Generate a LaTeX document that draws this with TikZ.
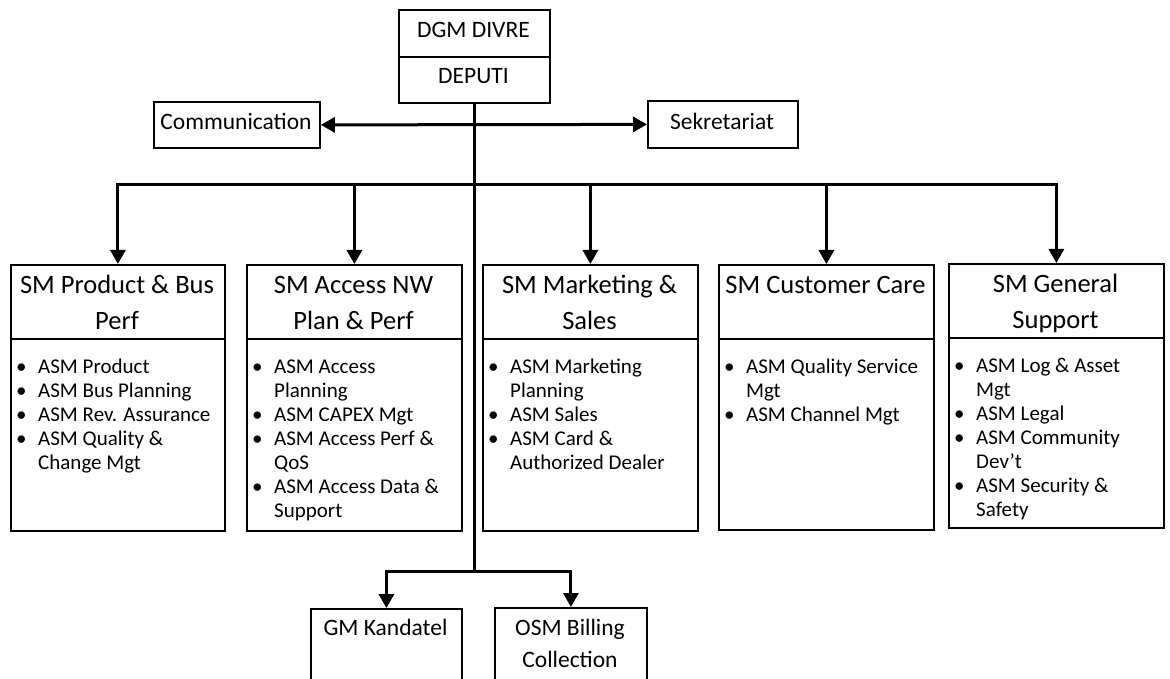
\documentclass[tikz,border=0pt]{standalone}
\usepackage{fontspec}
\setmainfont{Carlito}
\usetikzlibrary{arrows.meta}
\begin{document}
\begin{tikzpicture}[x=1pt,y=-1pt,
  box/.style={draw=black, line width=1.8pt, inner sep=0pt, anchor=north west},
  conn/.style={draw=black, line width=3pt},
  arr/.style={conn, -{Triangle[length=14pt,width=15pt]}},
  txt/.style={inner sep=0pt, anchor=base, font=\fontsize{23.5}{32}\selectfont},
  ttl/.style={inner sep=0pt, anchor=base, font=\fontsize{26.5}{36}\selectfont},
  lst/.style={inner sep=0pt, anchor=base west, font=\fontsize{21}{24}\selectfont}]
\useasboundingbox (0,0) rectangle (1170,679);
\fill[white] (0,0) rectangle (1170,679);
\clip (0,0) rectangle (1170,679);
\newcommand{\bl}{\makebox[22pt][l]{•}}
% top
\node[box, minimum width=151pt, minimum height=47pt] (dgmA) at (398,9) {};
\node[box, minimum width=151pt, minimum height=46pt] (dgmB) at (398,56) {};
\node[box, minimum width=166pt, minimum height=46pt] (comm) at (153,101) {};
\node[box, minimum width=150pt, minimum height=47pt] (sekr) at (647,100) {};
\node[txt] (tDGM) at (473.5,38) {DGM DIVRE};
\node[txt] (tDEP) at (473.5,84) {DEPUTI};
\node[txt] (tCom) at (236,130) {Communication};
\node[txt] (tSek) at (722,130) {Sekretariat};
% SM boxes
\node[box, minimum width=214pt, minimum height=74pt] (t1) at (10,264) {};
\node[box, minimum width=214pt, minimum height=192pt] (l1) at (10,338) {};
\node[box, minimum width=215pt, minimum height=74pt] (t2) at (246,264) {};
\node[box, minimum width=215pt, minimum height=192pt] (l2) at (246,338) {};
\node[box, minimum width=215pt, minimum height=74pt] (t3) at (482,264) {};
\node[box, minimum width=215pt, minimum height=192pt] (l3) at (482,338) {};
\node[box, minimum width=215pt, minimum height=74pt] (t4) at (718,264) {};
\node[box, minimum width=215pt, minimum height=191pt] (l4) at (718,338) {};
\node[box, minimum width=215pt, minimum height=74pt] (t5) at (948,263) {};
\node[box, minimum width=215pt, minimum height=190pt] (l5) at (948,337) {};
% titles
\node[ttl] (h1) at (117,293) {\begin{tabular}[t]{@{}c@{}}SM Product \& Bus\\Perf\end{tabular}};
\node[ttl] (h2) at (353.5,293) {\begin{tabular}[t]{@{}c@{}}SM Access NW\\Plan \& Perf\end{tabular}};
\node[ttl] (h3) at (589.5,293) {\begin{tabular}[t]{@{}c@{}}SM Marketing \&\\Sales\end{tabular}};
\node[ttl] (h4) at (825.5,293) {SM Customer Care};
\node[ttl] (h5) at (1055.5,292) {\begin{tabular}[t]{@{}c@{}}SM General\\Support\end{tabular}};
% lists
\node[lst] (b1) at (16,373) {\begin{tabular}[t]{@{}l@{}l@{}}
\bl & ASM Product\\
\bl & ASM Bus Planning\\
\bl & ASM Rev. Assurance\\
\bl & ASM Quality \&\\
 & Change Mgt\end{tabular}};
\node[lst] (b2) at (252,373) {\begin{tabular}[t]{@{}l@{}l@{}}
\bl & ASM Access\\
 & Planning\\
\bl & ASM CAPEX Mgt\\
\bl & ASM Access Perf \&\\
 & QoS\\
\bl & ASM Access Data \&\\
 & Support\end{tabular}};
\node[lst] (b3) at (488,373) {\begin{tabular}[t]{@{}l@{}l@{}}
\bl & ASM Marketing\\
 & Planning\\
\bl & ASM Sales\\
\bl & ASM Card \&\\
 & Authorized Dealer\end{tabular}};
\node[lst] (b4) at (724,373) {\begin{tabular}[t]{@{}l@{}l@{}}
\bl & ASM Quality Service\\
 & Mgt\\
\bl & ASM Channel Mgt\end{tabular}};
\node[lst] (b5) at (954,372) {\begin{tabular}[t]{@{}l@{}l@{}}
\bl & ASM Log \& Asset\\
 & Mgt\\
\bl & ASM Legal\\
\bl & ASM Community\\
 & Dev’t\\
\bl & ASM Security \&\\
 & Safety\end{tabular}};
% bottom boxes
\node[box, minimum width=151pt, minimum height=100pt] (gmk) at (310,608) {};
\node[box, minimum width=152pt, minimum height=100pt] (osm) at (494,607) {};
\node[txt] (tGM) at (385.5,635) {GM Kandatel};
\node[txt] (tOSM) at (570,635) {\begin{tabular}[t]{@{}c@{}}OSM Billing\\Collection\end{tabular}};
% connectors
\path (dgmB.south) ++(0,81) coordinate (jA);
\path (dgmB.south) ++(0,468) coordinate (jB);
\draw[conn] (dgmB.south) -- (jB);
\draw[conn, {Triangle[length=14pt,width=15pt]}-{Triangle[length=14pt,width=15pt]}] (comm.east) -- (sekr.west);
\draw[arr] (jA) -| (t1.north);
\draw[arr] (jA) -| (t2.north);
\draw[arr] (jA) -| (t3.north);
\draw[arr] (jA) -| (t4.north);
\draw[arr] (jA) -| (t5.north);
\draw[arr] (jB) -| (gmk.north);
\draw[arr] (jB) -| (osm.north);
\end{tikzpicture}
\end{document}
